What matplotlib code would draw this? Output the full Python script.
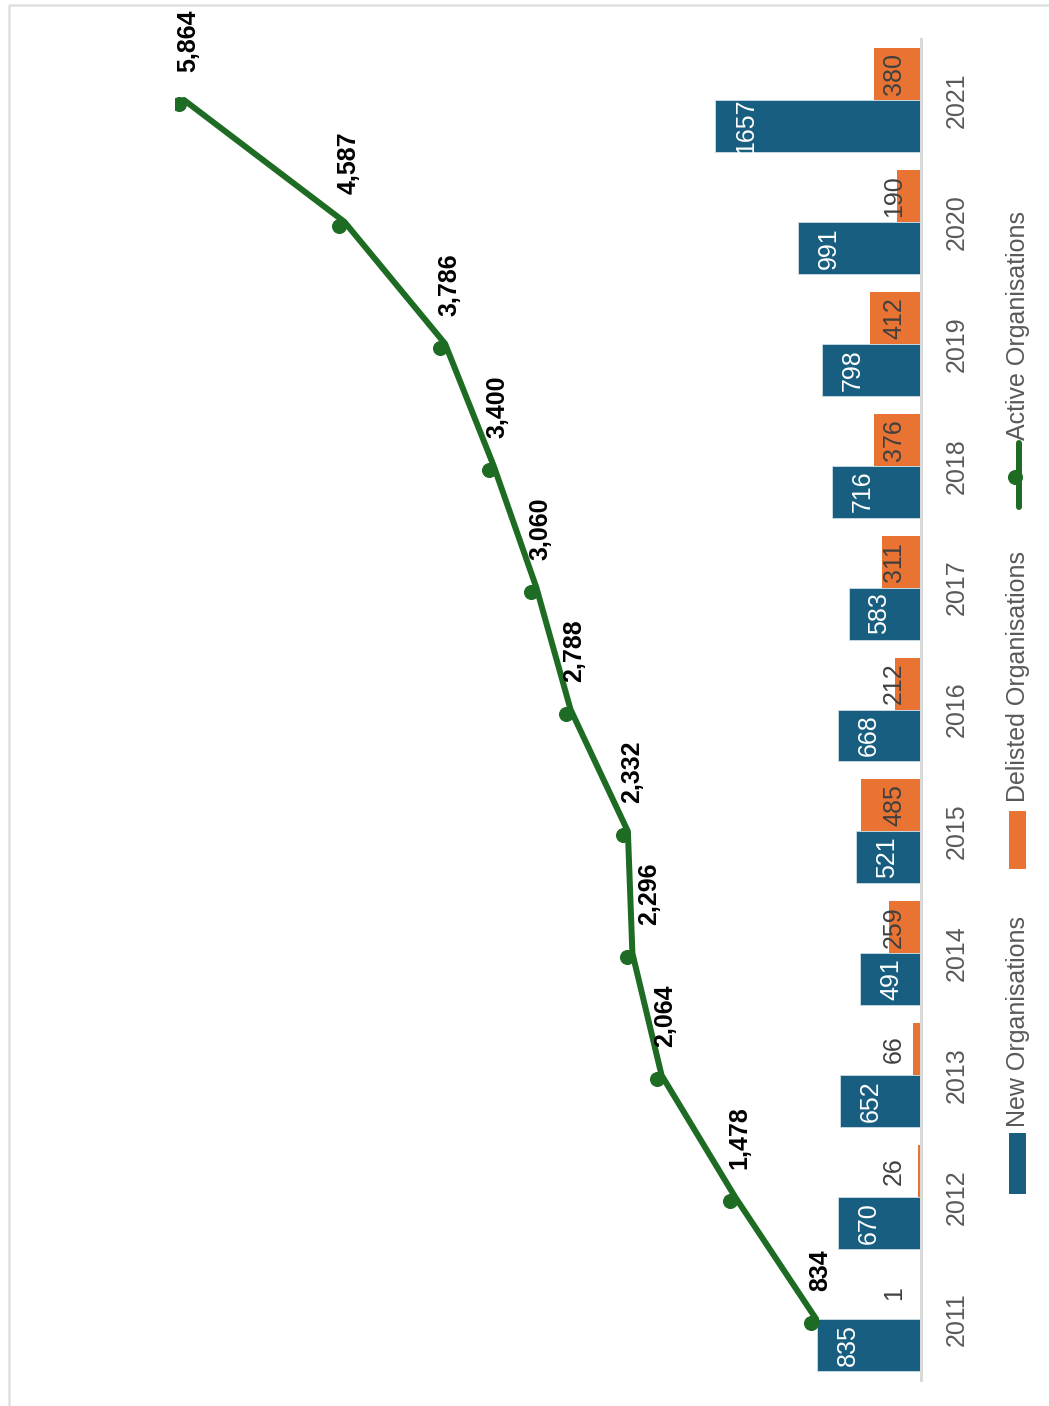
import matplotlib
matplotlib.use("Agg")
import matplotlib.pyplot as plt
import matplotlib.transforms as mtransforms
from matplotlib.lines import Line2D
from matplotlib.patches import Rectangle

plt.rcParams['font.family'] = ['Liberation Sans', 'DejaVu Sans']

years = [2011, 2012, 2013, 2014, 2015, 2016, 2017, 2018, 2019, 2020, 2021]
new_orgs = [835, 670, 652, 491, 521, 668, 583, 716, 798, 991, 1657]
delisted_orgs = [1, 26, 66, 259, 485, 212, 311, 376, 412, 190, 380]
active_orgs = [834, 1478, 2064, 2296, 2332, 2788, 3060, 3400, 3786, 4587, 5864]

BLUE = "#175e80"
ORANGE = "#e87332"
GREEN = "#1e6b23"
GREY = "#595959"

W, H = 1049, 1406
fig = plt.figure(figsize=(W / 72, H / 72), dpi=72)
# chart is drawn turned on its side: years run bottom to top, values grow to the left
ax = fig.add_axes([175 / W, 26 / H, 746 / W, 1341 / H])

bw = 0.426
ax.barh([y - bw / 2 for y in years], new_orgs, height=bw, color=BLUE,
        edgecolor="#cfe0ea", linewidth=0.8)
ax.barh([y + bw / 2 for y in years], delisted_orgs, height=bw, color=ORANGE,
        edgecolor="none")
ax.set_xlim(6000, 0)
ax.set_ylim(2010.5, 2021.5)

for y, v in zip(years, new_orgs):
    ax.annotate(str(v), (v, y - bw / 2), xytext=(31, 0), textcoords="offset points",
                rotation=90, ha="center", va="center", color="white", fontsize=25)
for y, v in zip(years, delisted_orgs):
    ax.annotate(str(v), (0, y + bw / 2), xytext=(-27, 0), textcoords="offset points",
                rotation=90, ha="center", va="center", color="#404040", fontsize=25)

for s in ["top", "left", "bottom"]:
    ax.spines[s].set_visible(False)
ax.spines["right"].set_color("#d9d9d9")
ax.spines["right"].set_linewidth(3)
ax.set_xticks([])
ax.yaxis.tick_right()
ax.set_yticks(years)
ax.set_yticklabels([str(y) for y in years], rotation=90, va="center",
                   color=GREY, fontsize=25)
ax.tick_params(axis="y", length=0, pad=24)

ax2 = ax.twiny()
ax2.set_xlim(5935, 0)
ax2.axis("off")
ax2.plot(active_orgs, years, color=GREEN, lw=6, solid_capstyle="round")
mk_tr = mtransforms.offset_copy(ax2.transData, fig=fig, x=-5, y=-4, units="dots")
ax2.plot(active_orgs, years, "o", color=GREEN, ms=14, transform=mk_tr)
# one label is pushed off the line in the original
nudge = {2014: 13}
for y, v in zip(years, active_orgs):
    ax2.annotate(f"{v:,}", (v, y), xytext=(4 + nudge.get(y, 0), 28),
                 textcoords="offset points", rotation=90, ha="center", va="bottom",
                 color="black", fontsize=25, fontweight="bold")

# legend, turned like the chart
def fx(px):
    return px / W

def fy(py):
    return 1 - py / H

fig.add_artist(Rectangle((fx(1009), fy(1193)), 16 / W, 60 / H, color=BLUE,
                         transform=fig.transFigure))
fig.text(fx(1018), fy(1127), "New Organisations", rotation=90, ha="center",
         va="bottom", color=GREY, fontsize=25)
fig.add_artist(Rectangle((fx(1009), fy(868)), 16 / W, 57 / H, color=ORANGE,
                         transform=fig.transFigure))
fig.text(fx(1018), fy(802), "Delisted Organisations", rotation=90, ha="center",
         va="bottom", color=GREY, fontsize=25)
fig.add_artist(Line2D([fx(1019), fx(1019)], [fy(507), fy(443)], color=GREEN, lw=6,
                      solid_capstyle="round", transform=fig.transFigure))
fig.add_artist(Line2D([fx(1015)], [fy(477)], marker="o", ms=14, color=GREEN,
                      transform=fig.transFigure))
fig.text(fx(1018), fy(440), "Active Organisations", rotation=90, ha="center",
         va="bottom", color=GREY, fontsize=25)

# light frame at top and left
fig.add_artist(Line2D([fx(9), fx(9), fx(W + 5)], [fy(H + 5), fy(5), fy(5)],
                      color="#e0e0e0", lw=2.5, transform=fig.transFigure))

fig.savefig("out.png", dpi=72, facecolor="white")
